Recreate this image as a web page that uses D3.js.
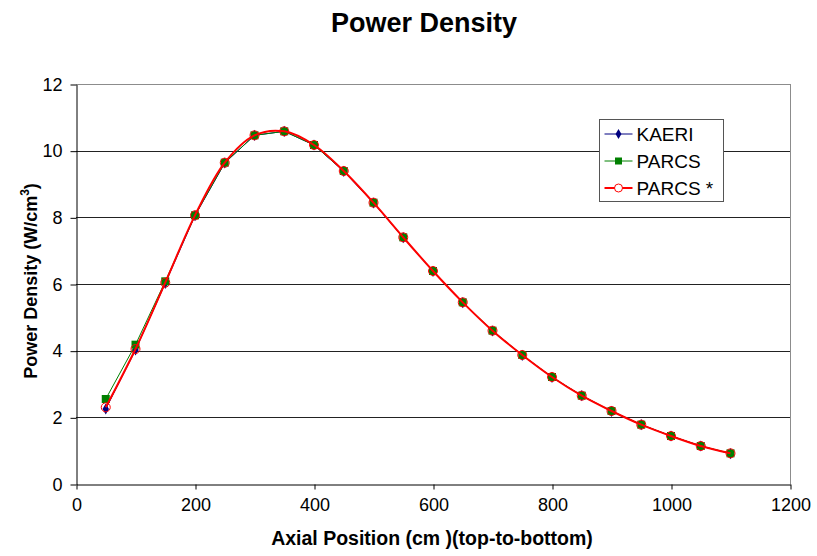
<!DOCTYPE html>
<html>
<head>
<meta charset="utf-8">
<script src="https://cdn.jsdelivr.net/npm/d3@7"></script>
<style>
  body { margin: 0; background: #fff; }
  svg text { font-family: Arial, "Liberation Sans", sans-serif; fill: #000; }
</style>
</head>
<body>
<svg id="chart" width="817" height="556"></svg>
<script>
// axial positions (cm)
const positions = [50, 100, 150, 200, 250, 300, 350, 400, 450, 500, 550, 600,
  650, 700, 750, 800, 850, 900, 950, 1000, 1050, 1100];

const kaeri = [2.25, 4.02, 6.02, 8.05, 9.63, 10.46, 10.58, 10.17, 9.38, 8.43, 7.39, 6.38,
  5.44, 4.59, 3.86, 3.2, 2.65, 2.18, 1.78, 1.44, 1.14, 0.91];
const parcs = [2.55, 4.18, 6.08, 8.06, 9.64, 10.46, 10.58, 10.17, 9.39, 8.44, 7.40, 6.39,
  5.45, 4.60, 3.87, 3.21, 2.65, 2.19, 1.78, 1.44, 1.14, 0.92];
const parcsStar = [2.3, 4.05, 6.04, 8.06, 9.64, 10.46, 10.58, 10.17, 9.39, 8.44, 7.40, 6.39,
  5.45, 4.60, 3.87, 3.21, 2.65, 2.19, 1.78, 1.44, 1.14, 0.92];

const xTicks = [0, 200, 400, 600, 800, 1000, 1200];
const yTicks = [0, 2, 4, 6, 8, 10, 12];

const margin = { top: 84, right: 27, bottom: 72, left: 76 };
const width = 817, height = 556;

const svg = d3.select("#chart");

const xScale = d3.scaleLinear().domain([0, 1200]).range([margin.left, width - margin.right]);
const yScale = d3.scaleLinear().domain([0, 12]).range([height - margin.bottom, margin.top]);

// gridlines
svg.append("g")
  .selectAll("line")
  .data(yTicks.filter(d => d > 0))
  .join("line")
  .attr("x1", xScale(0))
  .attr("x2", xScale(1200))
  .attr("y1", d => Math.round(yScale(d)) + 0.5)
  .attr("y2", d => Math.round(yScale(d)) + 0.5)
  .attr("stroke", d => d === 12 ? "#8c8c8c" : "#222")
  .attr("stroke-width", 1);

// right border
svg.append("line")
  .attr("x1", Math.round(xScale(1200)) + 0.5)
  .attr("x2", Math.round(xScale(1200)) + 0.5)
  .attr("y1", yScale(12))
  .attr("y2", yScale(0))
  .attr("stroke", "#8c8c8c");

// axes
const xAxis = d3.axisBottom(xScale).tickValues(xTicks).tickFormat(d3.format("d"))
  .tickSize(5).tickSizeOuter(0).tickPadding(9);
const yAxis = d3.axisLeft(yScale).tickValues(yTicks).tickFormat(d3.format("d"))
  .tickSize(6).tickSizeOuter(0).tickPadding(8);

const gx = svg.append("g")
  .attr("transform", `translate(0.5, ${Math.round(yScale(0)) + 0.5})`)
  .call(xAxis);
const gy = svg.append("g")
  .attr("transform", `translate(${Math.round(xScale(0)) + 0.5}, 0.5)`)
  .call(yAxis);

[gx, gy].forEach(g => {
  g.selectAll("text").style("font-size", "18px").attr("fill", "#000");
  g.selectAll("line, path").attr("stroke", "#000");
});

// series
const zip = vals => positions.map((p, i) => ({ x: p, y: vals[i] }));

const lineStraight = d3.line().x(d => xScale(d.x)).y(d => yScale(d.y));
const lineSmooth = d3.line().x(d => xScale(d.x)).y(d => yScale(d.y)).curve(d3.curveCatmullRom.alpha(0.5));

const plot = svg.append("g");

// KAERI
plot.append("path")
  .datum(zip(kaeri))
  .attr("d", lineStraight)
  .attr("fill", "none")
  .attr("stroke", "#000080")
  .attr("stroke-width", 1);
plot.append("g").selectAll("path")
  .data(zip(kaeri))
  .join("path")
  .attr("d", d3.symbol(d3.symbolDiamond, 36))
  .attr("transform", d => `translate(${xScale(d.x)},${yScale(d.y)})`)
  .attr("fill", "#000080");

// PARCS
plot.append("path")
  .datum(zip(parcs))
  .attr("d", lineStraight)
  .attr("fill", "none")
  .attr("stroke", "#008000")
  .attr("stroke-width", 1);
plot.append("g").selectAll("rect")
  .data(zip(parcs))
  .join("rect")
  .attr("x", d => xScale(d.x) - 4)
  .attr("y", d => yScale(d.y) - 4)
  .attr("width", 8)
  .attr("height", 8)
  .attr("fill", "#008000");

// PARCS *
plot.append("path")
  .datum(zip(parcsStar))
  .attr("d", lineSmooth)
  .attr("fill", "none")
  .attr("stroke", "#ff0000")
  .attr("stroke-width", 2);
plot.append("g").selectAll("circle")
  .data(zip(parcsStar))
  .join("circle")
  .attr("cx", d => xScale(d.x))
  .attr("cy", d => yScale(d.y))
  .attr("r", 4.5)
  .attr("fill", "none")
  .attr("stroke", "#ff0000")
  .attr("stroke-width", 1);

// title
svg.append("text")
  .attr("x", 424)
  .attr("y", 32)
  .attr("text-anchor", "middle")
  .style("font-size", "27px")
  .style("font-weight", "bold")
  .text("Power Density");

// x label
svg.append("text")
  .attr("x", 432)
  .attr("y", 545)
  .attr("text-anchor", "middle")
  .style("font-size", "19.5px")
  .style("font-weight", "bold")
  .text("Axial Position (cm )(top-to-bottom)");

// y label
const yl = svg.append("text")
  .attr("transform", "translate(37, 281) rotate(-90)")
  .attr("text-anchor", "middle")
  .style("font-size", "18px")
  .style("font-weight", "bold");
yl.append("tspan").text("Power Density (W/cm");
yl.append("tspan").attr("dy", -8).style("font-size", "12px").text("3");
yl.append("tspan").attr("dy", 8).text(")");

// legend
const legendItems = [
  { name: "KAERI", color: "#000080", marker: "diamond" },
  { name: "PARCS", color: "#008000", marker: "square" },
  { name: "PARCS *", color: "#ff0000", marker: "circle" }
];

const legend = svg.append("g").attr("transform", "translate(599.5, 119.5)");
legend.append("rect")
  .attr("width", 124)
  .attr("height", 82)
  .attr("fill", "#fff")
  .attr("stroke", "#555")
  .attr("stroke-width", 1);

const li = legend.selectAll("g.item")
  .data(legendItems)
  .join("g")
  .attr("class", "item")
  .attr("transform", (d, i) => `translate(0, ${14.5 + i * 27})`);

li.append("line")
  .attr("x1", 5).attr("x2", 33)
  .attr("stroke", d => d.color)
  .attr("stroke-width", d => d.marker === "circle" ? 2 : 1);

li.each(function (d) {
  const g = d3.select(this);
  if (d.marker === "diamond") {
    g.append("path").attr("d", d3.symbol(d3.symbolDiamond, 30)).attr("transform", "translate(19,0)").attr("fill", d.color);
  } else if (d.marker === "square") {
    g.append("rect").attr("x", 15.5).attr("y", -3.5).attr("width", 7).attr("height", 7).attr("fill", d.color);
  } else {
    g.append("circle").attr("cx", 19).attr("r", 4).attr("fill", "#fff").attr("stroke", d.color);
  }
});

li.append("text")
  .attr("x", 37)
  .attr("dy", "0.36em")
  .style("font-size", "19px")
  .text(d => d.name);
</script>
</body>
</html>
